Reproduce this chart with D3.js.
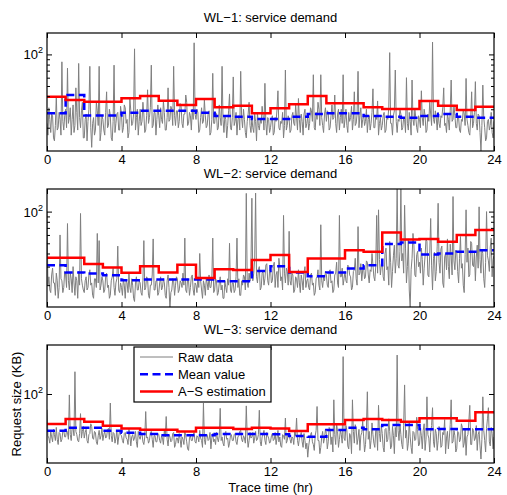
<!DOCTYPE html>
<html>
<head>
<meta charset="utf-8">
<script src="https://cdn.jsdelivr.net/npm/d3@7"></script>
<style>
  body { margin: 0; background: #fff; }
  svg { display: block; font-family: "Liberation Sans", Arial, Helvetica, sans-serif; }
</style>
</head>
<body>
<div id="chart"></div>
<script>
// --- data (KB, log axis) ---
const titles = ['WL\u22121: service demand', 'WL\u22122: service demand', 'WL\u22123: service demand'];
const xTicks = [0, 4, 8, 12, 16, 20, 24];
const hours = [0, 1, 2, 3, 4, 5, 6, 7, 8, 9, 10, 11, 12, 13, 14, 15, 16, 17, 18, 19, 20, 21, 22, 23, 24];
const sampleStep = 0.05; // raw samples every 3 minutes
const legendLabels = ['Raw data', 'Mean value', 'A\u2212S estimation'];

// WL-1 (one row per hour)
const raw1 = [
  22, 17, 31, 24, 18, 27, 26, 16, 15, 21, 40, 19, 20, 28, 24, 17, 85, 23, 19, 26,
  30, 20, 74, 22, 25, 31, 17, 24, 33, 18, 21, 48, 28, 19, 82, 25, 20, 29, 35, 16,
  16, 24, 27, 15, 23, 30, 77, 20, 13, 22, 25, 17, 19, 35, 29, 21, 77, 15, 18, 26,
  24, 19, 17, 28, 44, 20, 21, 30, 26, 16, 15, 23, 79, 18, 22, 27, 28, 19, 19, 32,
  27, 18, 20, 33, 31, 22, 24, 16, 18, 38, 29, 21, 22, 27, 113, 19, 25, 30, 17, 23,
  30, 21, 23, 35, 27, 18, 19, 26, 46, 22, 25, 31, 79, 20, 21, 28, 28, 17, 24, 33,
  26, 20, 31, 24, 22, 36, 28, 19, 19, 25, 48, 23, 24, 32, 30, 21, 77, 26, 21, 29,
  29, 20, 23, 34, 32, 22, 20, 27, 27, 41, 35, 21, 22, 28, 26, 19, 30, 24, 129, 27,
  24, 30, 28, 18, 19, 25, 31, 22, 23, 37, 26, 20, 21, 27, 29, 17, 18, 24, 66, 22,
  22, 28, 27, 19, 20, 33, 25, 21, 77, 24, 18, 26, 24, 16, 21, 29, 42, 20, 19, 25,
  61, 21, 23, 28, 17, 24, 26, 19, 69, 25, 20, 30, 24, 18, 16, 23, 27, 35, 21, 18,
  25, 20, 18, 27, 23, 15, 28, 21, 19, 24, 22, 32, 26, 19, 53, 22, 17, 25, 24, 18,
  20, 24, 26, 17, 18, 25, 23, 30, 45, 20, 19, 23, 22, 28, 16, 21, 71, 19, 21, 26,
  24, 18, 19, 26, 28, 22, 21, 33, 25, 19, 38, 24, 18, 27, 23, 17, 27, 30, 20, 22,
  26, 19, 22, 31, 29, 23, 64, 20, 19, 28, 24, 35, 30, 21, 64, 25, 21, 18, 27, 31,
  23, 29, 28, 19, 20, 26, 33, 24, 25, 41, 22, 18, 27, 30, 19, 25, 30, 22, 64, 20,
  24, 30, 21, 18, 28, 23, 25, 32, 19, 24, 44, 21, 22, 27, 69, 20, 26, 31, 20, 24,
  27, 21, 23, 30, 18, 24, 26, 19, 22, 28, 47, 20, 20, 26, 24, 36, 17, 22, 25, 19,
  21, 26, 28, 18, 19, 25, 24, 31, 104, 22, 22, 17, 26, 29, 71, 23, 18, 24, 23, 30,
  27, 19, 20, 25, 24, 18, 60, 22, 19, 28, 23, 17, 57, 24, 21, 30, 25, 20, 18, 26,
  24, 20, 45, 25, 21, 30, 26, 18, 19, 27, 23, 35, 27, 21, 131, 24, 22, 29, 25, 19,
  28, 22, 20, 26, 25, 31, 48, 21, 22, 18, 27, 24, 19, 29, 57, 23, 24, 33, 26, 20,
  20, 26, 25, 19, 18, 24, 23, 30, 27, 21, 59, 24, 21, 18, 17, 25, 44, 20, 22, 28,
  55, 22, 19, 27, 26, 18, 12, 21, 51, 25, 20, 15, 16, 23, 24, 19, 21, 28, 18, 16,
  23
];
const mean1 = [27.5, 41.0, 26.1, 26.1, 27.8, 29.1, 29.1, 29.1, 27.8, 25.9, 25.5, 24.2,
  24.2, 25.5, 27.0, 27.5, 27.5, 25.9, 25.5, 24.9, 25.9, 27.0, 25.5, 24.9];
const est1 = [39.5, 36.7, 35.4, 35.4, 38.1, 40.1, 36.2, 32.9, 37.6, 31.3, 32.4, 27.5,
  30.6, 33.4, 40.1, 34.2, 34.2, 31.3, 30.2, 30.2, 36.0, 32.4, 29.5, 31.7];

// WL-2
const raw2 = [
  100, 20, 24, 18, 17, 25, 29, 21, 21, 16, 26, 22, 15, 19, 60, 23, 22, 17, 19, 27,
  25, 19, 77, 22, 18, 26, 23, 17, 30, 21, 16, 24, 22, 15, 27, 20, 96, 23, 20, 18,
  17, 22, 24, 18, 19, 25, 28, 20, 21, 16, 15, 23, 23, 19, 62, 21, 53, 18, 20, 24,
  22, 17, 18, 24, 26, 19, 20, 15, 16, 22, 24, 29, 19, 16, 21, 23, 47, 18, 17, 21,
  19, 16, 23, 20, 15, 22, 21, 17, 26, 19, 17, 23, 20, 15, 14, 21, 24, 18, 18, 22,
  21, 17, 16, 22, 53, 18, 19, 24, 23, 16, 15, 20, 20, 25, 55, 18, 18, 22, 22, 16,
  17, 21, 24, 18, 19, 23, 21, 16, 15, 22, 25, 19, 12, 17, 18, 23, 22, 16, 20, 24,
  23, 17, 18, 22, 21, 19, 26, 20, 56, 18, 17, 23, 22, 16, 19, 24, 25, 18, 16, 21,
  20, 17, 24, 19, 40, 22, 18, 15, 22, 20, 16, 23, 21, 18, 25, 19, 19, 23, 56, 17,
  18, 23, 22, 16, 17, 21, 24, 18, 20, 15, 15, 22, 19, 17, 23, 20, 50, 18, 17, 21,
  21, 17, 18, 24, 56, 19, 23, 16, 16, 22, 20, 25, 24, 18, 149, 21, 19, 26, 22, 30,
  134, 22, 26, 35, 150, 24, 21, 28, 30, 18, 19, 26, 27, 20, 23, 31, 32, 22, 20, 27,
  28, 21, 22, 30, 33, 19, 25, 27, 19, 36, 30, 22, 24, 18, 92, 26, 21, 29, 27, 20,
  65, 22, 20, 26, 25, 17, 18, 24, 23, 19, 28, 21, 17, 25, 22, 18, 26, 30, 19, 22,
  23, 19, 18, 25, 26, 20, 21, 16, 17, 23, 24, 28, 20, 18, 75, 22, 19, 24, 22, 27,
  25, 20, 19, 27, 28, 21, 22, 17, 18, 25, 26, 33, 21, 19, 92, 24, 24, 29, 20, 23,
  27, 22, 21, 31, 30, 25, 24, 18, 19, 27, 28, 36, 23, 20, 72, 25, 26, 32, 22, 28,
  29, 23, 24, 34, 33, 25, 21, 28, 27, 40, 31, 24, 22, 30, 92, 26, 104, 35, 25, 31,
  35, 24, 22, 40, 45, 28, 30, 20, 52, 33, 19, 27, 38, 48, 26, 36, 166, 31, 29, 42,
  166, 34, 40, 26, 115, 45, 21, 30, 55, 18, 12, 28, 36, 62, 48, 25, 24, 39, 42, 30,
  33, 26, 45, 35, 20, 29, 38, 55, 52, 25, 24, 40, 86, 31, 18, 36, 41, 22, 27, 47,
  120, 33, 26, 44, 47, 21, 19, 37, 40, 28, 55, 30, 23, 49, 38, 25, 139, 34, 28, 43,
  42, 27, 21, 36, 58, 29, 32, 20, 17, 39, 104, 33, 45, 24, 25, 52, 50, 31, 30, 41,
  22, 37, 48, 29, 111, 35, 26, 44, 40, 23, 19, 33, 100, 38, 34, 27, 46, 56, 24, 35,
  38
];
const mean2 = [31.0, 26.4, 25.8, 24.9, 22.3, 22.6, 22.6, 22.6, 22.6, 21.8, 21.8, 27.2,
  30.3, 26.4, 24.3, 26.4, 28.8, 31.0, 49.1, 51.0, 39.2, 40.0, 41.5, 43.0];
const est2 = [36.4, 36.4, 31.7, 29.4, 26.2, 30.3, 26.4, 31.2, 23.4, 28.4, 27.8, 34.6,
  38.6, 26.7, 35.9, 35.9, 43.0, 41.5, 63.4, 54.4, 54.8, 51.6, 59.8, 66.7];

// WL-3
const raw3 = [
  71, 40, 38, 34, 44, 39, 35, 46, 41, 36, 48, 37, 33, 43, 42, 35, 37, 44, 45, 39,
  39, 45, 43, 37, 98, 41, 36, 48, 47, 40, 163, 44, 41, 36, 35, 42, 65, 38, 44, 49,
  38, 43, 46, 36, 34, 41, 42, 52, 49, 38, 37, 44, 43, 35, 33, 40, 45, 37, 40, 47,
  36, 41, 44, 38, 39, 46, 47, 37, 82, 40, 35, 43, 42, 34, 38, 45, 33, 39, 45, 41,
  40, 36, 34, 42, 43, 38, 37, 33, 46, 40, 32, 39, 41, 36, 38, 44, 35, 31, 44, 39,
  37, 41, 42, 35, 33, 39, 68, 38, 39, 34, 36, 43, 44, 37, 31, 40, 40, 35, 35, 42,
  41, 36, 34, 40, 38, 33, 45, 39, 61, 37, 32, 41, 39, 35, 36, 42, 43, 31, 33, 38,
  38, 34, 42, 37, 31, 39, 37, 33, 44, 40, 35, 30, 29, 38, 40, 36, 36, 41, 43, 35,
  34, 40, 39, 35, 45, 38, 36, 31, 82, 37, 33, 41, 41, 36, 37, 43, 30, 38, 42, 35,
  37, 33, 43, 38, 35, 40, 73, 36, 39, 34, 32, 42, 44, 37, 38, 31, 34, 40, 41, 36,
  36, 41, 42, 35, 33, 39, 40, 44, 45, 37, 35, 40, 38, 34, 77, 39, 31, 36, 43, 38,
  39, 43, 34, 38, 44, 36, 37, 41, 70, 35, 32, 39, 41, 45, 36, 33, 43, 40, 38, 34,
  35, 40, 42, 36, 37, 43, 33, 38, 45, 35, 39, 32, 31, 41, 40, 37, 59, 34, 36, 42,
  41, 37, 34, 39, 38, 33, 44, 40, 59, 36, 32, 38, 39, 43, 35, 31, 42, 36, 30, 34,
  25, 32, 37, 41, 43, 35, 33, 29, 40, 45, 76, 36, 36, 27, 31, 39, 44, 34, 38, 46,
  42, 30, 35, 48, 46, 33, 39, 28, 88, 41, 33, 52, 44, 31, 37, 45, 41, 34, 227, 38,
  36, 50, 45, 32, 30, 42, 40, 27, 88, 44, 34, 51, 47, 33, 38, 46, 29, 40, 43, 55,
  39, 28, 33, 47, 105, 37, 44, 30, 36, 53, 41, 34, 31, 45, 46, 29, 78, 42, 35, 50,
  42, 31, 28, 46, 47, 35, 37, 58, 44, 30, 32, 49, 40, 27, 48, 39, 235, 45, 36, 52,
  41, 33, 30, 50, 122, 38, 45, 29, 34, 55, 39, 31, 27, 44, 43, 36, 37, 60, 46, 32,
  33, 47, 40, 30, 45, 52, 29, 37, 94, 41, 38, 28, 43, 50, 74, 35, 31, 46, 42, 29,
  36, 49, 46, 31, 32, 43, 41, 57, 27, 38, 44, 30, 38, 51, 88, 34, 35, 45, 40, 28,
  30, 44, 43, 35, 37, 52, 48, 31, 34, 46, 26, 39, 41, 55, 78, 33, 33, 47, 45, 36,
  38, 50, 29, 41, 44, 32, 24, 37, 94, 45, 36, 28, 47, 58, 74, 35, 32, 48, 42, 30,
  39
];
const mean3 = [44.7, 47.8, 47.8, 44.7, 42.8, 41.6, 40.5, 40.5, 40.5, 41.6, 41.6, 41.6,
  41.3, 39.8, 39.2, 45.4, 47.8, 46.1, 50.7, 50.7, 46.1, 46.4, 46.1, 46.1];
const est3 = [51.8, 57.8, 54.5, 49.9, 46.8, 45.7, 45.7, 43.8, 47.8, 47.8, 46.4, 47.8,
  46.8, 44.5, 51.5, 51.5, 56.6, 57.8, 56.6, 54.5, 58.7, 58.7, 55.7, 67.0];

const yDomains = [[12, 160], [12.4, 164], [22, 293]];
const minorTicks = [20, 30, 40, 50, 60, 70, 80, 90];

// --- layout ---
const W = 507, H = 495;
const panelTops = [33, 189, 345];
const panelH = 118;
const left = 47, right = 494;

const panels = [
  { raw: raw1, mean: mean1, est: est1, minor: true },
  { raw: raw2, mean: mean2, est: est2, minor: true },
  { raw: raw3, mean: mean3, est: est3, minor: false }
];

const svg = d3.select('#chart').append('svg')
  .attr('width', W)
  .attr('height', H);

const x = d3.scaleLinear().domain([0, 24]).range([left, right]);

panels.forEach((p, i) => {
  const top = panelTops[i];
  const bottom = top + panelH;
  const y = d3.scaleLog().domain(yDomains[i]).range([bottom, top]);
  const g = svg.append('g');

  g.append('clipPath').attr('id', 'clip' + i)
    .append('rect')
    .attr('x', left).attr('y', top)
    .attr('width', right - left).attr('height', panelH);

  const plot = g.append('g').attr('clip-path', `url(#clip${i})`);

  const rawLine = d3.line()
    .x((d, k) => x(k * sampleStep))
    .y(d => y(d));

  const stepLine = d3.line()
    .x((d, k) => x(hours[k]))
    .y(d => y(d))
    .curve(d3.curveStepAfter);

  plot.append('path')
    .datum(p.raw)
    .attr('d', rawLine)
    .attr('fill', 'none')
    .attr('stroke', '#7f7f7f')
    .attr('stroke-width', 1);

  plot.append('path')
    .datum(p.mean.concat([p.mean[p.mean.length - 1]]))
    .attr('d', stepLine)
    .attr('fill', 'none')
    .attr('stroke', '#0000ff')
    .attr('stroke-width', 2.5)
    .attr('stroke-dasharray', '8,4.5');

  plot.append('path')
    .datum(p.est.concat([p.est[p.est.length - 1]]))
    .attr('d', stepLine)
    .attr('fill', 'none')
    .attr('stroke', '#ff0000')
    .attr('stroke-width', 2.5);

  // axes: ticks point inward like MATLAB
  const noDomain = s => s.select('.domain').remove();

  g.append('g')
    .attr('transform', `translate(0,${bottom})`)
    .call(d3.axisBottom(x).tickValues(xTicks).tickSizeInner(-5).tickSizeOuter(0).tickPadding(4))
    .call(noDomain)
    .call(s => s.selectAll('text').attr('font-size', 13).attr('fill', '#000').attr('font-family', null));

  g.append('g')
    .attr('transform', `translate(0,${top})`)
    .call(d3.axisTop(x).tickValues(xTicks).tickSizeInner(-5).tickSizeOuter(0).tickFormat(''))
    .call(noDomain);

  g.append('g')
    .attr('transform', `translate(${left},0)`)
    .call(d3.axisLeft(y).tickValues([100]).tickSizeInner(-5).tickSizeOuter(0).tickFormat(''))
    .call(noDomain);

  g.append('g')
    .attr('transform', `translate(${right},0)`)
    .call(d3.axisRight(y).tickValues([100]).tickSizeInner(-5).tickSizeOuter(0).tickFormat(''))
    .call(noDomain);

  if (p.minor) {
    const inRange = minorTicks.filter(v => v >= yDomains[i][0] && v <= yDomains[i][1]);
    g.append('g')
      .attr('transform', `translate(${left},0)`)
      .call(d3.axisLeft(y).tickValues(inRange).tickSizeInner(-3).tickSizeOuter(0).tickFormat(''))
      .call(noDomain);
    g.append('g')
      .attr('transform', `translate(${right},0)`)
      .call(d3.axisRight(y).tickValues(inRange).tickSizeInner(-3).tickSizeOuter(0).tickFormat(''))
      .call(noDomain);
  }

  // 10^2 label
  const lab = g.append('text')
    .attr('x', left - 4)
    .attr('y', y(100) + 5)
    .attr('text-anchor', 'end')
    .attr('font-size', 13)
    .text('10');
  lab.append('tspan')
    .attr('font-size', 9)
    .attr('dy', -6)
    .text('2');

  // frame
  g.append('rect')
    .attr('x', left).attr('y', top)
    .attr('width', right - left).attr('height', panelH)
    .attr('fill', 'none')
    .attr('stroke', '#000')
    .attr('stroke-width', 1.2);

  g.append('text')
    .attr('x', (left + right) / 2)
    .attr('y', top - 11)
    .attr('text-anchor', 'middle')
    .attr('font-size', 13)
    .text(titles[i]);
});

// axis labels
svg.append('text')
  .attr('x', (left + right) / 2)
  .attr('y', 492)
  .attr('text-anchor', 'middle')
  .attr('font-size', 13)
  .text('Trace time (hr)');

svg.append('text')
  .attr('transform', `translate(21,${panelTops[2] + panelH / 2}) rotate(-90)`)
  .attr('text-anchor', 'middle')
  .attr('font-size', 13)
  .text('Request size (KB)');

// legend (in the WL-3 panel)
const legend = svg.append('g').attr('transform', 'translate(134,347)');
legend.append('rect')
  .attr('width', 137).attr('height', 55)
  .attr('fill', '#fff')
  .attr('stroke', '#000')
  .attr('stroke-width', 1.2);

const legendStyles = [
  { color: '#7f7f7f', width: 1, dash: null },
  { color: '#0000ff', width: 2.5, dash: '8,4.5' },
  { color: '#ff0000', width: 2.5, dash: null }
];

legendLabels.forEach((t, k) => {
  const yy = 10 + k * 17.3;
  legend.append('line')
    .attr('x1', 6).attr('x2', 39)
    .attr('y1', yy).attr('y2', yy)
    .attr('stroke', legendStyles[k].color)
    .attr('stroke-width', legendStyles[k].width)
    .attr('stroke-dasharray', legendStyles[k].dash);
  legend.append('text')
    .attr('x', 44)
    .attr('y', yy + 4.5)
    .attr('font-size', 13)
    .text(t);
});
</script>
</body>
</html>
